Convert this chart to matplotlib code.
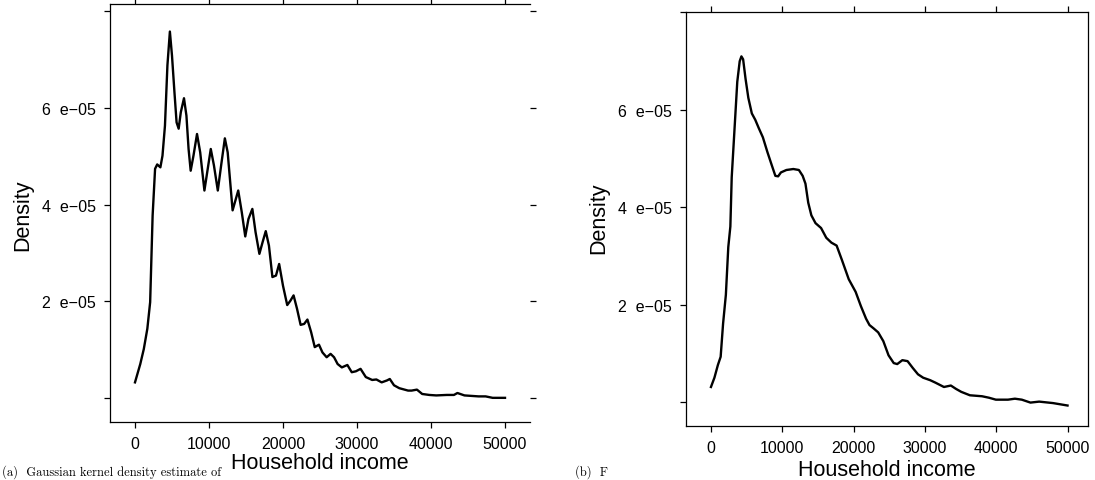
import matplotlib
matplotlib.use("Agg")
import matplotlib.pyplot as plt

# Panel (a): Gaussian kernel density estimate (in units of 1e-05)
income_a = [0, 714, 1190, 1667, 2048, 2381, 2714, 3000, 3430, 3714, 4048, 4381, 4714,
            5000, 5333, 5619, 5900, 6190, 6619, 6950, 7240, 7524, 7900, 8381, 8810,
            9380, 9760, 10240, 10667, 11190, 11667, 12143, 12524, 13190, 13950, 14430,
            14900, 15330, 15860, 16290, 16810, 17240, 17670, 18100, 18570, 19050, 19480,
            20000, 20570, 21000, 21430, 21900, 22380, 22860, 23300, 23800, 24290, 24860,
            25330, 25900, 26430, 26900, 27380, 27950, 28700, 29290, 29860, 30480, 31190,
            32050, 32620, 33330, 34050, 34430, 35000, 35710, 36900, 37380, 38100, 38810,
            39760, 40710, 42140, 43100, 43570, 44520, 46430, 47380, 48330, 50000]
density_a = [0.32, 0.70, 1.01, 1.43, 1.98, 3.77, 4.74, 4.83, 4.77, 5.01, 5.63, 6.88, 7.58,
             7.08, 6.32, 5.70, 5.57, 5.91, 6.20, 5.84, 5.15, 4.70, 5.01, 5.46, 5.08,
             4.29, 4.67, 5.15, 4.81, 4.29, 4.84, 5.37, 5.08, 3.88, 4.29, 3.84,
             3.34, 3.70, 3.91, 3.43, 2.98, 3.22, 3.45, 3.15, 2.50, 2.53, 2.77,
             2.32, 1.92, 2.01, 2.12, 1.84, 1.51, 1.53, 1.62, 1.36, 1.05, 1.10,
             0.94, 0.84, 0.91, 0.84, 0.70, 0.63, 0.68, 0.53, 0.55, 0.60, 0.43,
             0.37, 0.38, 0.32, 0.36, 0.39, 0.26, 0.20, 0.15, 0.15, 0.17, 0.08,
             0.06, 0.05, 0.06, 0.06, 0.10, 0.05, 0.03, 0.03, 0.00, 0.00]

# Panel (b): smoother estimate
income_b = [0, 485, 970, 1360, 1700, 2090, 2430, 2720, 2910, 3300, 3690, 4030, 4270,
            4510, 4850, 5240, 5730, 6210, 6700, 7280, 7910, 8500, 9030, 9420, 9810,
            10580, 11550, 12330, 12860, 13250, 13640, 14080, 14660, 15440, 16170,
            16890, 17620, 18350, 19320, 20290, 21020, 21750, 22230, 22820, 23450,
            24170, 24900, 25630, 26120, 26840, 27570, 28300, 29030, 29760, 30730,
            31460, 32670, 33640, 34370, 35100, 36310, 38010, 38980, 39950, 41650,
            42620, 43590, 44800, 46020, 47960, 50000]
density_b = [0.31, 0.50, 0.76, 0.93, 1.61, 2.20, 3.18, 3.60, 4.61, 5.59, 6.57, 6.99, 7.09,
             7.03, 6.63, 6.24, 5.92, 5.79, 5.62, 5.43, 5.13, 4.87, 4.64, 4.63, 4.71,
             4.76, 4.78, 4.76, 4.64, 4.48, 4.09, 3.83, 3.67, 3.57, 3.37,
             3.27, 3.21, 2.92, 2.52, 2.26, 1.97, 1.71, 1.58, 1.51, 1.43,
             1.25, 0.96, 0.80, 0.78, 0.86, 0.84, 0.70, 0.57, 0.50, 0.45,
             0.40, 0.31, 0.34, 0.27, 0.21, 0.14, 0.12, 0.09, 0.05, 0.05,
             0.07, 0.05, -0.01, 0.01, -0.02, -0.07]

x_ticks = [0, 10000, 20000, 30000, 40000, 50000]
y_ticks = [0, 2e-05, 4e-05, 6e-05, 8e-05]
y_tick_labels = ['', '2  e\u221205', '4  e\u221205', '6  e\u221205', '']

plt.rcParams['font.family'] = ['Liberation Sans', 'DejaVu Sans']

fig = plt.figure(figsize=(10.95, 4.81), dpi=100)
ax1 = fig.add_axes([110 / 1095, 58 / 481, 420 / 1095, 418 / 481])
ax2 = fig.add_axes([686 / 1095, 54 / 481, 402 / 1095, 414 / 481])


def style(ax, xlim, ylim, xlab_y, ylab_x, ylab_y):
    ax.set_xlim(*xlim)
    ax.set_ylim(*ylim)
    ax.set_xticks(x_ticks)
    ax.set_xticklabels([str(t) for t in x_ticks])
    ax.set_yticks(y_ticks)
    ax.set_yticklabels(y_tick_labels)
    ax.tick_params(direction='out', length=4, width=0.9, labelsize=11.5, pad=6,
                   colors='black')
    ax.xaxis.set_ticks_position('both')
    for s in ax.spines.values():
        s.set_linewidth(0.9)
    ax.set_xlabel('Household income', fontsize=15.5)
    ax.set_ylabel('Density', fontsize=15.5)
    ax.xaxis.label.set_va('center')
    ax.yaxis.label.set_va('center')
    ax.xaxis.set_label_coords(0.5, xlab_y)
    ax.yaxis.set_label_coords(ylab_x, ylab_y)


ax1.plot(income_a, [d * 1e-05 for d in density_a], color='black', lw=1.7)
style(ax1, (-3378, 53378), (-0.5e-05, 8.15e-05), -0.096, -0.207, 0.498)
ax1.spines['right'].set_visible(False)
ax1.yaxis.set_ticks_position('both')

ax2.plot(income_b, [d * 1e-05 for d in density_b], color='black', lw=1.7)
style(ax2, (-3500, 52870), (-0.49e-05, 7.63e-05), -0.104, -0.216, 0.505)

# sub-figure captions along the bottom edge
fig.text(0.002, 0.004, '(a)  Gaussian kernel density estimate of', family='cmr10',
         fontsize=9, va='bottom', ha='left')
fig.text(0.525, 0.004, '(b)  F', family='cmr10', fontsize=9, va='bottom', ha='left')

fig.savefig('out.png', dpi=100)
